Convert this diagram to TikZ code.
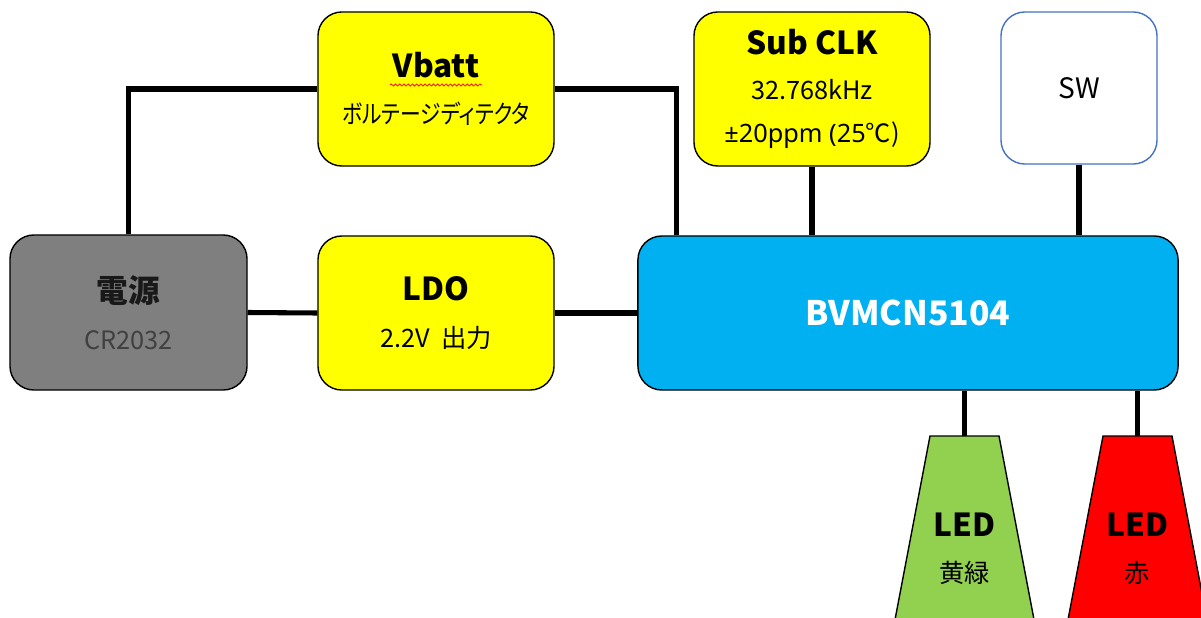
\documentclass[tikz,border=0pt]{standalone}
\usepackage{fontspec}
\setmainfont{Noto Sans CJK JP}
\newfontfamily\kanafont{Noto Sans CJK JP}[RawFeature=+palt]
\newfontfamily\latinfont{Noto Sans}
\usepackage{tikz}
\usetikzlibrary{decorations.pathmorphing}
\definecolor{bkgray}{RGB}{127,127,127}
\definecolor{bkyellow}{RGB}{255,255,0}
\definecolor{bkcyan}{RGB}{0,176,240}
\definecolor{bkblue}{RGB}{68,114,196}
\definecolor{ledgreen}{RGB}{146,208,80}
\definecolor{ledred}{RGB}{255,0,0}
\newcommand{\ttl}[1]{{\fontsize{22.5}{33}\selectfont\bfseries #1}}
\newcommand{\subtxt}[1]{{\fontsize{18}{33}\selectfont #1}}
\tikzstyle{block} = [rectangle, rounded corners=17pt, draw=black, line width=1pt, align=center, inner sep=0pt, font=\fontsize{18}{33}\selectfont]
\tikzstyle{wire} = [line width=3.6pt]
\tikzstyle{led} = [draw=black, line width=1pt]

\begin{document}
\begin{tikzpicture}[x=0.025cm, y=-0.025cm]
\useasboundingbox (0,0) rectangle (1201,617);
\clip (0,0) rectangle (1201,617);

% Wires
\coordinate (ledgtop) at (964.5,436);
\coordinate (ledrtop) at (1137.5,436);

% Blocks
\node (batt) [block, fill=bkgray, minimum width=5.925cm, minimum height=3.875cm] at (128.5,312.5)
  {\ttl{\color{black!90}電源}\\\subtxt{\color{black!75}CR2032}};
\node (vbatt) [block, fill=bkyellow, minimum width=5.9cm, minimum height=3.85cm] at (436,89)
  {\ttl{Vbatt}\\\subtxt{\scalebox{0.82}[1]{\kanafont ボルテージディテクタ}}};
\node (ldo) [block, fill=bkyellow, minimum width=5.9cm, minimum height=3.85cm] at (436,313)
  {\ttl{LDO}\\\subtxt{2.2V\ \ 出力}};
\node (subclk) [block, fill=bkyellow, minimum width=5.9cm, minimum height=3.85cm] at (812,89)
  {\ttl{Sub CLK}\\[-1pt]\subtxt{32.768kHz}\\[-2pt]\subtxt{{\latinfont ±20ppm (25}{\kanafont ℃})}};
\node (sw) [block, fill=white, draw=bkblue, minimum width=3.9cm, minimum height=3.8cm] at (1079,88)
  {\fontsize{20}{24}\selectfont SW};
\node (mcu) [block, fill=bkcyan, minimum width=13.5cm, minimum height=3.85cm] at (908,313)
  {\fontsize{24}{28}\selectfont\bfseries\color{white}BVMCN5104};

% LEDs
\filldraw[led, fill=ledgreen] (930,436) -- (999,436) -- (1041.7,660) -- (887.3,660) -- cycle;
\filldraw[led, fill=ledred] (1103,436) -- (1172,436) -- (1214.7,660) -- (1060.3,660) -- cycle;
\node (ledg) [align=center, font=\fontsize{18}{33}\selectfont] at (964.5,549) {\ttl{LED}\\\subtxt{黄緑}};
\node (ledr) [align=center, font=\fontsize{18}{33}\selectfont] at (1137.5,549) {\ttl{LED}\\\subtxt{赤}};

% Connections
\draw[wire] (batt.north) |- (vbatt.west);
\draw[wire] (vbatt.east) -| ([xshift=0.975cm]mcu.north west);
\draw[wire] (batt.east) -- (ldo.west);
\draw[wire] (ldo.east) -- (ldo.east -| mcu.west);
\draw[wire] (subclk.south) -- (subclk.south |- mcu.north);
\draw[wire] (sw.south) -- (sw.south |- mcu.north);
\draw[wire] (mcu.south -| ledgtop) -- (ledgtop);
\draw[wire] (mcu.south -| ledrtop) -- (ledrtop);

% Spell-check squiggle
\draw[red!85!orange, line width=0.6pt, decorate, decoration={snake, amplitude=0.7pt, segment length=3pt}] (390,85) -- (482,85);
\end{tikzpicture}
\end{document}
